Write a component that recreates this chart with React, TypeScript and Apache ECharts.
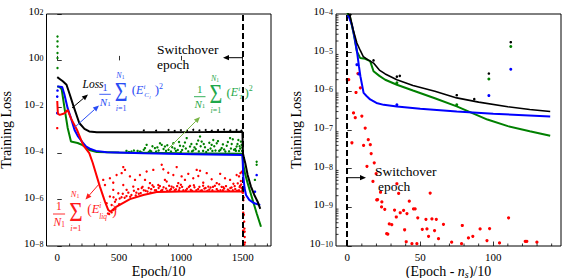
import React, { useEffect, useRef } from "react";
import * as echarts from "echarts";

const FONT = '"Liberation Serif", "DejaVu Serif", serif';

// ---------- axes ----------
const leftXMin = -87;
const leftXMax = 1729;
const leftXTicks = [0, 500, 1000, 1500];
const leftXMinor = [100, 200, 300, 400, 600, 700, 800, 900, 1100, 1200, 1300, 1400, 1600, 1700];
const leftYMin = -8; // log10 of loss
const leftYMax = 2;
const rightXMin = -7.7;
const rightXMax = 146.4;
const rightXTicks = [0, 50, 100];
const rightXMinor = [10, 20, 30, 40, 60, 70, 80, 90, 110, 120, 130, 140];
const rightYMin = -10;
const rightYMax = -4;
const rightDecades = [-10, -9, -8, -7, -6, -5];
const minorMantissas = [2, 3, 4, 5, 6, 7, 8, 9];
const switchLeft = 1500; // n_s / 10
const switchRight = 0;

// ---------- left panel data: [epoch/10, log10(loss)] ----------
const lossLeft = [[0,-0.72],[20,-0.8],[45,-0.9],[75,-1.05],[100,-1.45],[130,-1.95],[178,-2.7],[220,-2.95],[259,-3.06],[320,-3.1],[450,-3.1],[800,-3.1],[1200,-3.09],[1498,-3.08],[1502,-4.0],[1510,-4.2],[1521,-4.43],[1540,-4.94],[1567,-5.44],[1594,-5.8],[1621,-6.09],[1642,-6.4]];
const ciLeft = [[0,-1.12],[40,-1.15],[57,-1.45],[84,-2.06],[111,-2.49],[140,-3.0],[165,-3.25],[200,-3.5],[232,-3.71],[270,-3.82],[313,-3.9],[400,-3.96],[700,-4.0],[1100,-4.04],[1498,-4.08],[1505,-5.0],[1515,-5.5],[1527,-5.8],[1553,-6.01],[1594,-6.16],[1642,-6.23]];
const tLeft = [[0,-1.12],[20,-1.15],[36,-1.25],[60,-2.1],[84,-2.9],[111,-3.5],[165,-3.56],[205,-3.65],[259,-3.86],[320,-3.95],[500,-3.97],[1000,-4.0],[1498,-4.02],[1505,-4.5],[1520,-4.9],[1540,-5.29],[1580,-6.01],[1613,-6.59],[1648,-7.17]];
const liqLeft = [[0,-1.75],[5,-2.3],[20,-2.35],[50,-2.3],[65,-2.25],[84,-2.13],[111,-2.5],[160,-3.0],[210,-3.65],[259,-4.0],[286,-4.4],[345,-5.44],[386,-6.09],[413,-6.45],[430,-6.52],[480,-6.3],[588,-5.98],[696,-5.8],[804,-5.67],[1000,-5.65],[1498,-5.65]];

const liqCloudLeft = [[0,-2.92],[372,-5.15],[386,-5.37],[400,-6.16],[426,-5.08],[426,-5.87],[440,-6.23],[453,-5.27],[453,-5.58],[467,-6.09],[480,-4.94],[494,-5.73],[521,-4.86],[534,-5.37],[534,-4.6],[548,-4.72],[561,-5.58],[588,-5.0],[615,-5.44],[629,-5.15],[669,-4.94],[683,-5.5],[710,-5.15],[723,-4.79],[750,-5.29],[777,-4.72],[817,-5.37],[845,-4.5],[858,-4.69],[871,-5.15],[885,-5.22],[898,-4.84],[925,-5.44],[939,-4.94],[966,-4.6],[979,-5.29],[1006,-5.0],[1033,-5.15],[1060,-4.89],[1074,-5.41],[1100,-5.08],[1128,-4.72],[1141,-4.98],[1155,-4.76],[1181,-5.27],[1209,-4.86],[1222,-5.44],[1249,-5.12],[1290,-5.29],[1318,-4.89],[1344,-5.47],[1357,-5.08],[1398,-5.15],[1425,-5.32],[1451,-4.94],[1479,-5.41],[1482,-4.86],[1470,-5.0],[1485,-5.2],[1492,-4.8],[1495,-5.5],[1488,-5.35],
  [410,-6.6],[420,-6.62],[440,-6.55],[455,-6.45],[470,-6.4],[500,-6.2],[520,-5.9],[560,-5.85],[600,-5.8],[640,-5.7],[660,-5.75],[700,-5.6],[730,-5.65],[760,-5.55],[770,-5.38],[790,-5.6],[820,-5.5],[850,-5.58],[880,-5.52],[910,-5.6],[940,-5.48],[960,-5.56],[990,-5.5],[1000,-5.36],[1020,-5.6],[1050,-5.53],[1080,-5.58],[1110,-5.47],[1140,-5.55],[1170,-5.6],[1180,-5.4],[1200,-5.5],[1230,-5.57],[1260,-5.45],[1290,-5.55],[1310,-5.34],[1320,-5.6],[1350,-5.52],[1380,-5.57],[1410,-5.48],[1440,-5.55],[1460,-5.3],[1470,-5.6],[1490,-5.5],
  [455,-5.9],[475,-6.0],[505,-5.95],[530,-5.75],[545,-5.92],[575,-5.7],[590,-5.88],[620,-5.62],[635,-5.82],[655,-5.55],[675,-5.72],[690,-5.45],[715,-5.62],[740,-5.5],[755,-5.7],[780,-5.45],[800,-5.6],[830,-5.42],[840,-5.62],[860,-5.47],[890,-5.62],[905,-5.4],[920,-5.55],[950,-5.6],[970,-5.42],[985,-5.6],[1010,-5.45],[1040,-5.6],[1065,-5.46],[1090,-5.62],[1105,-5.38],[1125,-5.6],[1150,-5.45],[1160,-5.62],[1190,-5.52],[1215,-5.62],[1240,-5.48],[1255,-5.6],[1275,-5.4],[1300,-5.62],[1330,-5.45],[1340,-5.6],[1365,-5.42],[1390,-5.62],[1400,-5.5],[1420,-5.6],[1435,-5.42],[1455,-5.62],[1475,-5.46],[1497,-5.6]];
const tCloudLeft = [[2,1.03],[2,0.82],[2,0.6],[2,0.32],[2,0.1],[2,-0.33],[560,-3.9],[600,-3.93],[650,-3.9],[683,-3.97],[700,-3.85],[723,-3.64],[750,-3.89],[760,-3.92],[790,-3.78],[820,-3.88],[831,-3.57],[845,-3.64],[871,-3.71],[880,-3.9],[900,-3.85],[939,-3.57],[950,-3.8],[960,-3.9],[993,-3.68],[1010,-3.86],[1033,-3.54],[1047,-3.35],[1060,-3.92],[1074,-3.71],[1100,-3.88],[1120,-3.82],[1128,-3.6],[1155,-3.28],[1168,-3.5],[1180,-3.9],[1195,-3.74],[1220,-3.86],[1240,-3.8],[1249,-3.64],[1262,-3.43],[1280,-3.88],[1290,-3.57],[1310,-3.9],[1330,-3.78],[1350,-3.84],[1371,-3.68],[1390,-3.92],[1398,-3.35],[1411,-3.6],[1430,-3.85],[1440,-3.82],[1451,-3.71],[1465,-3.43],[1470,-3.9],[1480,-3.8],[1492,-3.64],[1497,-3.75],
  [580,-3.95],[620,-3.88],[670,-3.93],[710,-3.78],[740,-3.95],[770,-3.7],[800,-3.93],[810,-3.75],[860,-3.82],[890,-3.66],[920,-3.93],[930,-3.74],[975,-3.86],[985,-3.52],[1000,-3.95],[1020,-3.7],[1040,-3.8],[1085,-3.6],[1090,-3.92],[1110,-3.75],[1140,-3.45],[1145,-3.92],[1160,-3.7],[1185,-3.6],[1205,-3.95],[1230,-3.55],[1255,-3.9],[1270,-3.7],[1300,-3.48],[1320,-3.85],[1340,-3.62],[1360,-3.93],[1380,-3.52],[1405,-3.8],[1420,-3.4],[1445,-3.9],[1458,-3.6],[1475,-3.7],[1485,-3.5],[1495,-3.9],
  [1599,-5.15],[1613,-4.37],[1613,-4.5]];
const ciCloudLeft = [[0,-1.56],[0,-2.27],[2,-1.3],[1599,-5.66],[1613,-4.94]];
const lossCloudLeft = [[700,-3.02],[800,-3.03],[900,-3.0],[950,-3.04],[1000,-3.01],[1050,-3.03],[1100,-2.99],[1150,-3.02],[1200,-3.0],[1250,-3.03],[1300,-3.01],[1350,-2.98],[1400,-3.02],[1450,-3.0],[1490,-3.03]];

// ---------- right panel data: [(epoch - n_s)/10, log10(loss)] ----------
const lossRight = [[0,-3.95],[2,-4.06],[4,-4.4],[6.6,-4.75],[9,-4.95],[11,-5.1],[14,-5.18],[18,-5.27],[22,-5.45],[26,-5.55],[34,-5.7],[45,-5.85],[60,-6.0],[75,-6.17],[90,-6.28],[110,-6.4],[125,-6.47],[139,-6.52]];
const tRight = [[0,-3.97],[2,-4.1],[4.3,-4.49],[6.6,-4.97],[8.9,-5.14],[12.3,-5.16],[15.7,-5.22],[18,-5.48],[22,-5.6],[26,-5.7],[34,-5.83],[45,-5.98],[60,-6.18],[75,-6.39],[96,-6.73],[110,-6.9],[125,-7.03],[139,-7.15]];
const ciRight = [[0,-4.05],[1,-4.06],[3.2,-4.28],[5,-4.6],[6.6,-4.95],[8,-5.35],[9,-5.61],[11.2,-6.04],[13.2,-6.12],[15.7,-6.21],[20,-6.3],[25,-6.35],[34,-6.39],[50,-6.45],[75,-6.52],[100,-6.58],[139,-6.65]];
const lossDotsRight = [[2,-4.02],[18,-5.2],[34,-5.62],[36,-5.6],[75,-6.1],[87,-6.2],[97,-5.54],[112,-4.73]];
const tDotsRight = [[34,-5.78],[75,-6.35],[97,-5.68],[112,-4.84]];
const ciDotsRight = [[6.6,-5.31],[8,-5.55],[34,-6.35],[97,-6.11],[112,-5.43]];
const liqRight = [[0,-5.7],[1,-5.7],[7.3,-5.54],[9,-5.91],[6,-6.03],[4.3,-6.56],[5.5,-6.68],[10,-6.64],[12.3,-6.95],[14.4,-7.25],[3.2,-7.33],[11.2,-7.4],[15.8,-7.38],[16.4,-7.61],[18.5,-7.85],[13.5,-7.94],[19.8,-8.13],[17.6,-8.33],[22.8,-8.61],[20.8,-8.8],[20.2,-8.81],[23.7,-8.86],[23.5,-8.99],[25.7,-9.05],[27,-9.68],[27.8,-9.69],[28.8,-9.43],[30.5,-9.45],[34,-8.39],[35.2,-8.64],[32.4,-9.07],[33.6,-9.25],[36.3,-9.14],[38.6,-9.08],[42.5,-8.84],[40.9,-9.16],[39.3,-9.58],[40.4,-9.89],[45.4,-9.04],[46.5,-9.04],[48.3,-9.27],[51.4,-9.57],[54.6,-9.56],[53.9,-9.31],[56.8,-8.63],[58,-9.3],[61,-9.31],[59.8,-9.6],[55.7,-9.75],[62.5,-9.81],[65.9,-9.44],[47.7,-9.94],[44.3,-9.94],[71.5,-9.9],[78.8,-9.47],[78.3,-9.94],[83,-9.79],[86,-9.75],[91,-9.56],[97.5,-9.55],[95.7,-9.86],[104.3,-9.92],[110.5,-9.27],[121.9,-9.88],[123,-9.88],[129.9,-9.9]];

const BLACK = "#000000";
const BLUE = "#0000ff";
const GREEN = "#008000";
const RED = "#ff0000";

function expLabel(v: number) {
  const e = Math.round(v);
  const s = e < 0 ? "\u2212" + -e : String(e);
  return `{b|10}{s|${s}}`;
}

const labelRich = {
  b: { fontSize: 11, fontFamily: FONT, color: "#000", lineHeight: 11, padding: [3, 0, 3, 0], verticalAlign: "bottom" },
  s: { fontSize: 8, fontFamily: FONT, color: "#000", lineHeight: 8, verticalAlign: "top" },
};

function txt(text: string, x: number, y: number, o: any = {}) {
  return {
    type: "text",
    x,
    y,
    z: 50,
    silent: true,
    rotation: o.rot || 0,
    scaleY: o.sy || 1,
    style: {
      text,
      fill: o.color || "#000",
      fontSize: o.fs || 12,
      fontFamily: FONT,
      fontStyle: o.it ? "italic" : "normal",
      align: o.align || "left",
      verticalAlign: "middle",
      lineHeight: o.lh,
      rich: o.rich,
    },
  };
}

function arrow(x1: number, y1: number, x2: number, y2: number, color: string, w = 1) {
  const ang = Math.atan2(y2 - y1, x2 - x1);
  const L = 6;
  const H = 2.6;
  const bx = x2 - L * Math.cos(ang);
  const by = y2 - L * Math.sin(ang);
  const px = -Math.sin(ang) * H;
  const py = Math.cos(ang) * H;
  return [
    { type: "line", z: 50, silent: true, shape: { x1, y1, x2: bx, y2: by }, style: { stroke: color, lineWidth: w } },
    { type: "polygon", z: 50, silent: true, shape: { points: [[x2, y2], [bx + px, by + py], [bx - px, by - py]] }, style: { fill: color } },
  ];
}

// rich-text styles for math pieces
function mathRich(fsMain: number, fsSub: number, color: string) {
  return {
    n: { fontSize: fsMain, fontFamily: FONT, fontStyle: "italic", color },
    r: { fontSize: fsMain, fontFamily: FONT, color },
    p: { fontSize: fsMain * 1.08, fontFamily: FONT, color },
    s: { fontSize: fsSub, fontFamily: FONT, color, verticalAlign: "bottom", padding: [fsSub * 0.6, 0, 0, 0] },
    u: { fontSize: fsSub, fontFamily: FONT, fontStyle: "italic", color, verticalAlign: "top", padding: [0, 0, fsSub * 0.9, 0] },
    q: { fontSize: fsSub, fontFamily: FONT, color, verticalAlign: "top", padding: [0, 0, fsSub * 0.9, 0] },
  };
}

function sumBlock(x0: number, yb: number, color: string, sub: any[], closeDx: number, square: boolean, k = 1) {
  const els: any[] = [];
  const X = (dx: number) => x0 + dx * k;
  const Y = (dy: number) => yb + dy * k;
  els.push(txt("1", X(5.7), Y(-7.5), { color, fs: 11 * k, align: "center" }));
  els.push({ type: "line", z: 50, silent: true, shape: { x1: x0, y1: yb, x2: x0 + 11.5 * k, y2: yb }, style: { stroke: color, lineWidth: 0.9 } });
  els.push(txt("{n|N}{s|1}", X(0.5), Y(7.5), { color, rich: mathRich(11 * k, 7 * k, color) }));
  els.push(txt("\u03A3", X(15.5), Y(-2.5), { color, fs: 22 * k, sy: 1.22 }));
  els.push(txt("{n|N}{s|1}", X(17), Y(-18.5), { color, rich: mathRich(8 * k, 5.5 * k, color) }));
  els.push(txt("{n|i}{r|=1}", X(16.5), Y(14), { color, rich: mathRich(8 * k, 6 * k, color) }));
  els.push(txt("{p|(}{n|E}{u|i}", X(32.5), Y(-4.5), { color, rich: mathRich(12 * k, 7 * k, color) }));
  sub.forEach((p: any) => els.push(txt(p[0], X(p[1]), Y(p[2]), { color, fs: p[3] * k, it: true })));
  if (square) {
    els.push(txt("{p|)}{q|2}", X(closeDx), Y(-4.5), { color, rich: mathRich(12 * k, 8 * k, color) }));
  } else {
    els.push(txt(")", X(closeDx), Y(-3.5), { color, fs: 13 * k }));
  }
  return els;
}

function tickSeries(id: string, xi: number, data: number[][], dx: number, dy: number) {
  return {
    type: "custom",
    id,
    xAxisIndex: xi,
    yAxisIndex: xi,
    silent: true,
    z: 20,
    data,
    renderItem: (params: any, api: any) => {
      const p = api.coord([api.value(0), api.value(1)]);
      return {
        type: "line",
        shape: { x1: p[0], y1: p[1], x2: p[0] + dx, y2: p[1] + dy },
        style: { stroke: "#000", lineWidth: 0.8 },
      };
    },
  };
}

function lineS(name: string, xi: number, data: number[][], color: string, extra: any = {}) {
  return {
    type: "line",
    name,
    xAxisIndex: xi,
    yAxisIndex: xi,
    data,
    showSymbol: false,
    lineStyle: { color, width: 2 },
    itemStyle: { color },
    z: 5,
    ...extra,
  };
}

function dotS(name: string, xi: number, data: number[][], color: string, size = 2.6) {
  return {
    type: "scatter",
    name,
    xAxisIndex: xi,
    yAxisIndex: xi,
    data,
    symbolSize: size,
    itemStyle: { color, opacity: 1 },
    z: 4,
  };
}

function dashLine(x: number) {
  return {
    silent: true,
    symbol: ["none", "none"],
    label: { show: false },
    lineStyle: { color: "#000", type: [6, 3], width: 2 },
    data: [{ xAxis: x }],
  };
}

function xAxisCfg(gi: number, min: number, max: number, ticks: number[]) {
  return {
    gridIndex: gi,
    type: "value",
    min,
    max,
    axisLine: { show: false },
    splitLine: { show: false },
    axisTick: { show: true, inside: true, length: 4.5, customValues: ticks, lineStyle: { color: "#000", width: 0.8 } },
    axisLabel: { customValues: ticks, formatter: (v: number) => String(v), color: "#000", fontFamily: FONT, fontSize: 11, margin: 5 },
  };
}

function yAxisCfg(gi: number, min: number, max: number, interval: number) {
  return {
    gridIndex: gi,
    type: "value",
    min,
    max,
    interval,
    axisLine: { show: false },
    splitLine: { show: false },
    axisTick: { show: true, inside: true, length: 4.5, lineStyle: { color: "#000", width: 0.8 } },
    axisLabel: { formatter: expLabel, rich: labelRich, margin: 3 },
  };
}

export default function App() {
  const ref = useRef<HTMLDivElement>(null);
  useEffect(() => {
    document.body.style.margin = "0";
    const chart = echarts.init(ref.current!, null, { renderer: "svg" });
    const rightYMinor: number[][] = [];
    rightDecades.forEach((n) => minorMantissas.forEach((m) => rightYMinor.push([rightXMin, n + Math.log10(m)])));
    const liqPostLeft = liqRight.map((p) => [p[0] + switchLeft, p[1]]);

    const graphic: any[] = [
      txt("Training Loss", 6, 130, { fs: 14, align: "center", rot: Math.PI / 2 }),
      txt("Training Loss", 296, 130, { fs: 14, align: "center", rot: Math.PI / 2 }),
      txt("Epoch/10", 158.7, 271, { fs: 14, align: "center" }),
      txt("{r|(Epoch - }{i|n}{s|s}{r|)/10}", 448.5, 271, {
        align: "center",
        rich: {
          r: { fontSize: 14, fontFamily: FONT, color: "#000" },
          i: { fontSize: 14, fontFamily: FONT, fontStyle: "italic", color: "#000" },
          s: { fontSize: 10, fontFamily: FONT, fontStyle: "italic", color: "#000", verticalAlign: "bottom", padding: [6, 0, 0, 0] },
        },
      }),
      txt("Switchover", 157, 49, { fs: 13.5 }),
      txt("epoch", 157, 64, { fs: 13.5 }),
      ...arrow(243, 57.7, 223, 57.7, BLACK),
      txt("Switchover", 375, 171, { fs: 13.5 }),
      txt("epoch", 378, 186, { fs: 13.5 }),
      ...arrow(347.5, 177.7, 366, 177.7, BLACK),
      txt("Loss", 82.5, 84, { fs: 11.5, it: true }),
      ...arrow(72, 108, 88, 94.5, BLACK),
      ...sumBlock(99.3, 94.3, "#2a4df5", [["C", 45, 1, 7], ["l", 50, 3, 5]], 55.5, true),
      ...arrow(75, 127, 99, 105.5, "#2a4df5"),
      ...sumBlock(194, 96.7, "#1fa84a", [["T", 45, 0, 7]], 50.5, true),
      ...arrow(167, 150, 200, 117, "#7ab648"),
      ...sumBlock(53, 214, "#ff1a1a", [["liq", 44, 2.5, 7]], 56.5, false, 1.05),
      ...arrow(100, 183, 85.5, 199.5, "#ff1a1a"),
    ];

    const option: any = {
      animation: false,
      grid: [
        { left: 46.5, top: 14, width: 224.5, height: 232, show: true, borderColor: "#000", borderWidth: 1, backgroundColor: "transparent" },
        { left: 336, top: 14, width: 225, height: 232, show: true, borderColor: "#000", borderWidth: 1, backgroundColor: "transparent" },
      ],
      xAxis: [xAxisCfg(0, leftXMin, leftXMax, leftXTicks), xAxisCfg(1, rightXMin, rightXMax, rightXTicks)],
      yAxis: [yAxisCfg(0, leftYMin, leftYMax, 2), yAxisCfg(1, rightYMin, rightYMax, 1)],
      series: [
        dotS("tCloudL", 0, tCloudLeft, GREEN, 2.4),
        dotS("liqCloudL", 0, liqCloudLeft, RED, 2.4),
        dotS("liqPostL", 0, liqPostLeft, RED, 2.4),
        dotS("lossCloudL", 0, lossCloudLeft, BLACK, 2),
        dotS("ciCloudL", 0, ciCloudLeft, BLUE),
        lineS("tL", 0, tLeft, GREEN),
        lineS("ciL", 0, ciLeft, BLUE),
        lineS("liqL", 0, liqLeft, RED),
        lineS("lossL", 0, lossLeft, BLACK, { markLine: dashLine(switchLeft) }),
        dotS("liqR", 1, liqRight, RED, 3.2),
        lineS("tR", 1, tRight, GREEN),
        lineS("ciR", 1, ciRight, BLUE),
        lineS("lossR", 1, lossRight, BLACK, { lineStyle: { color: BLACK, width: 1.6 }, markLine: dashLine(switchRight) }),
        dotS("lossDotsR", 1, lossDotsRight, BLACK, 2.6),
        dotS("tDotsR", 1, tDotsRight, GREEN, 3),
        dotS("ciDotsR", 1, ciDotsRight, BLUE, 3),
        tickSeries("lxminor", 0, leftXMinor.map((v) => [v, leftYMin]), 0, -2.5),
        tickSeries("rxminor", 1, rightXMinor.map((v) => [v, rightYMin]), 0, -2.5),
        tickSeries("ryminor", 1, rightYMinor, 2.5, 0),
      ],
      graphic: { elements: graphic },
    };
    chart.setOption(option);
    return () => chart.dispose();
  }, []);
  return <div ref={ref} style={{ width: 568, height: 278 }} />;
}
